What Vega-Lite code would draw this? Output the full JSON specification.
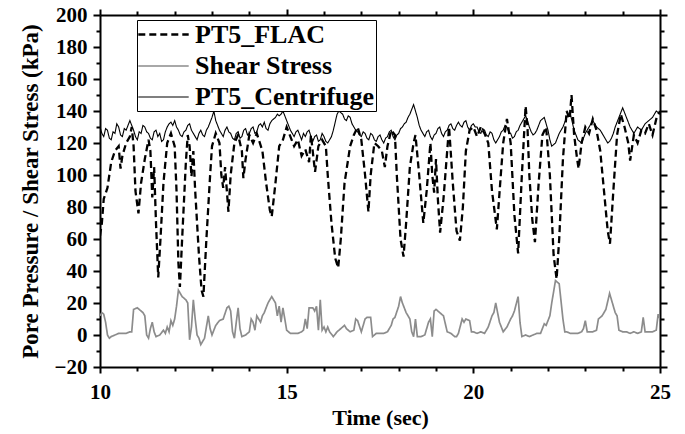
{
  "$schema": "https://vega.github.io/schema/vega-lite/v6.json",
  "autosize": {"type": "none"},
  "width": 560,
  "height": 352,
  "padding": {"left": 100, "top": 15, "right": 25, "bottom": 67},
  "background": "white",
  "datasets": {
    "flac": [
      {"t":10.0,"v":62},{"t":10.05,"v":70},{"t":10.1,"v":85},{"t":10.2,"v":92},{"t":10.3,"v":108},{"t":10.4,"v":115},{"t":10.5,"v":118},{"t":10.55,"v":104},{"t":10.6,"v":112},{"t":10.7,"v":120},{"t":10.8,"v":124},{"t":10.85,"v":130},{"t":10.9,"v":118},{"t":10.95,"v":90},{"t":11.03,"v":76},{"t":11.1,"v":95},{"t":11.2,"v":110},{"t":11.3,"v":122},{"t":11.35,"v":115},{"t":11.4,"v":86},{"t":11.45,"v":105},{"t":11.5,"v":70},{"t":11.56,"v":36},{"t":11.62,"v":60},{"t":11.7,"v":95},{"t":11.8,"v":120},{"t":11.9,"v":126},{"t":12.0,"v":118},{"t":12.05,"v":90},{"t":12.1,"v":45},{"t":12.14,"v":30},{"t":12.2,"v":60},{"t":12.3,"v":108},{"t":12.35,"v":125},{"t":12.4,"v":118},{"t":12.45,"v":99},{"t":12.5,"v":115},{"t":12.55,"v":90},{"t":12.65,"v":50},{"t":12.72,"v":28},{"t":12.77,"v":24},{"t":12.85,"v":60},{"t":12.95,"v":100},{"t":13.0,"v":118},{"t":13.1,"v":126},{"t":13.2,"v":120},{"t":13.25,"v":100},{"t":13.3,"v":92},{"t":13.35,"v":105},{"t":13.44,"v":77},{"t":13.5,"v":100},{"t":13.6,"v":120},{"t":13.7,"v":125},{"t":13.8,"v":115},{"t":13.84,"v":98},{"t":13.9,"v":110},{"t":14.0,"v":125},{"t":14.1,"v":120},{"t":14.2,"v":126},{"t":14.35,"v":115},{"t":14.45,"v":95},{"t":14.55,"v":78},{"t":14.6,"v":74},{"t":14.7,"v":95},{"t":14.8,"v":118},{"t":14.9,"v":122},{"t":15.0,"v":130},{"t":15.1,"v":124},{"t":15.2,"v":118},{"t":15.3,"v":122},{"t":15.4,"v":112},{"t":15.5,"v":116},{"t":15.6,"v":108},{"t":15.65,"v":125},{"t":15.76,"v":102},{"t":15.85,"v":118},{"t":15.95,"v":122},{"t":16.05,"v":118},{"t":16.1,"v":100},{"t":16.2,"v":70},{"t":16.3,"v":48},{"t":16.38,"v":42},{"t":16.45,"v":60},{"t":16.55,"v":95},{"t":16.7,"v":118},{"t":16.8,"v":125},{"t":16.9,"v":130},{"t":17.0,"v":122},{"t":17.1,"v":100},{"t":17.19,"v":77},{"t":17.25,"v":100},{"t":17.35,"v":120},{"t":17.45,"v":118},{"t":17.55,"v":115},{"t":17.63,"v":105},{"t":17.7,"v":118},{"t":17.8,"v":128},{"t":17.9,"v":125},{"t":17.95,"v":100},{"t":18.05,"v":60},{"t":18.13,"v":49},{"t":18.2,"v":70},{"t":18.3,"v":105},{"t":18.4,"v":120},{"t":18.45,"v":125},{"t":18.55,"v":100},{"t":18.66,"v":70},{"t":18.75,"v":90},{"t":18.85,"v":120},{"t":18.9,"v":100},{"t":18.95,"v":89},{"t":19.0,"v":110},{"t":19.05,"v":85},{"t":19.11,"v":64},{"t":19.2,"v":85},{"t":19.3,"v":115},{"t":19.35,"v":130},{"t":19.45,"v":95},{"t":19.55,"v":65},{"t":19.64,"v":59},{"t":19.72,"v":80},{"t":19.8,"v":115},{"t":19.9,"v":128},{"t":20.0,"v":130},{"t":20.1,"v":124},{"t":20.2,"v":130},{"t":20.3,"v":126},{"t":20.4,"v":120},{"t":20.5,"v":90},{"t":20.63,"v":66},{"t":20.72,"v":95},{"t":20.8,"v":120},{"t":20.9,"v":135},{"t":21.0,"v":120},{"t":21.1,"v":75},{"t":21.2,"v":51},{"t":21.3,"v":100},{"t":21.4,"v":143},{"t":21.45,"v":130},{"t":21.5,"v":100},{"t":21.58,"v":72},{"t":21.65,"v":58},{"t":21.75,"v":95},{"t":21.85,"v":125},{"t":21.95,"v":130},{"t":22.05,"v":100},{"t":22.15,"v":50},{"t":22.23,"v":35},{"t":22.3,"v":60},{"t":22.4,"v":110},{"t":22.5,"v":140},{"t":22.58,"v":135},{"t":22.63,"v":150},{"t":22.7,"v":125},{"t":22.78,"v":110},{"t":22.82,"v":104},{"t":22.9,"v":120},{"t":23.0,"v":130},{"t":23.1,"v":126},{"t":23.2,"v":135},{"t":23.3,"v":128},{"t":23.4,"v":115},{"t":23.5,"v":90},{"t":23.6,"v":65},{"t":23.66,"v":57},{"t":23.75,"v":90},{"t":23.85,"v":125},{"t":23.95,"v":138},{"t":24.05,"v":130},{"t":24.15,"v":120},{"t":24.2,"v":109},{"t":24.3,"v":125},{"t":24.4,"v":120},{"t":24.5,"v":128},{"t":24.6,"v":126},{"t":24.7,"v":132},{"t":24.8,"v":125},{"t":24.9,"v":135},{"t":25.0,"v":140}
    ],
    "shear": [
      {"t":10.0,"v":12},{"t":10.05,"v":14},{"t":10.1,"v":13},{"t":10.15,"v":8},{"t":10.2,"v":0},{"t":10.25,"v":-2},{"t":10.3,"v":-1},{"t":10.4,"v":0},{"t":10.5,"v":1},{"t":10.6,"v":1},{"t":10.7,"v":1},{"t":10.8,"v":2},{"t":10.85,"v":2},{"t":10.9,"v":16},{"t":11.0,"v":17},{"t":11.1,"v":15},{"t":11.15,"v":14},{"t":11.2,"v":12},{"t":11.25,"v":0},{"t":11.3,"v":-2},{"t":11.35,"v":4},{"t":11.4,"v":8},{"t":11.45,"v":2},{"t":11.5,"v":-1},{"t":11.6,"v":0},{"t":11.7,"v":3},{"t":11.75,"v":1},{"t":11.8,"v":5},{"t":11.85,"v":2},{"t":11.9,"v":9},{"t":11.95,"v":6},{"t":12.0,"v":10},{"t":12.05,"v":18},{"t":12.1,"v":28},{"t":12.15,"v":26},{"t":12.2,"v":24},{"t":12.3,"v":22},{"t":12.35,"v":20},{"t":12.4,"v":-3},{"t":12.45,"v":5},{"t":12.5,"v":22},{"t":12.55,"v":10},{"t":12.6,"v":0},{"t":12.65,"v":-2},{"t":12.7,"v":-6},{"t":12.75,"v":-4},{"t":12.8,"v":-2},{"t":12.85,"v":5},{"t":12.9,"v":12},{"t":12.95,"v":4},{"t":13.0,"v":0},{"t":13.1,"v":6},{"t":13.2,"v":9},{"t":13.3,"v":10},{"t":13.4,"v":17},{"t":13.45,"v":18},{"t":13.5,"v":15},{"t":13.55,"v":2},{"t":13.6,"v":-2},{"t":13.65,"v":8},{"t":13.7,"v":17},{"t":13.75,"v":4},{"t":13.8,"v":-1},{"t":13.9,"v":0},{"t":14.0,"v":2},{"t":14.05,"v":10},{"t":14.1,"v":8},{"t":14.15,"v":3},{"t":14.2,"v":12},{"t":14.3,"v":8},{"t":14.35,"v":12},{"t":14.4,"v":14},{"t":14.5,"v":20},{"t":14.6,"v":24},{"t":14.7,"v":20},{"t":14.75,"v":12},{"t":14.8,"v":18},{"t":14.85,"v":8},{"t":14.9,"v":17},{"t":14.95,"v":10},{"t":15.0,"v":3},{"t":15.1,"v":1},{"t":15.2,"v":1},{"t":15.3,"v":1},{"t":15.4,"v":2},{"t":15.45,"v":3},{"t":15.5,"v":10},{"t":15.55,"v":4},{"t":15.6,"v":17},{"t":15.7,"v":17},{"t":15.75,"v":15},{"t":15.8,"v":18},{"t":15.85,"v":3},{"t":15.9,"v":22},{"t":15.95,"v":3},{"t":16.0,"v":5},{"t":16.05,"v":2},{"t":16.1,"v":5},{"t":16.15,"v":2},{"t":16.25,"v":-1},{"t":16.35,"v":2},{"t":16.5,"v":5},{"t":16.55,"v":6},{"t":16.6,"v":4},{"t":16.7,"v":2},{"t":16.8,"v":3},{"t":16.85,"v":10},{"t":16.9,"v":9},{"t":17.0,"v":2},{"t":17.1,"v":10},{"t":17.15,"v":11},{"t":17.25,"v":11},{"t":17.3,"v":-1},{"t":17.4,"v":1},{"t":17.5,"v":1},{"t":17.6,"v":1},{"t":17.7,"v":2},{"t":17.8,"v":6},{"t":17.85,"v":10},{"t":17.9,"v":11},{"t":18.0,"v":18},{"t":18.05,"v":24},{"t":18.1,"v":20},{"t":18.2,"v":14},{"t":18.3,"v":10},{"t":18.35,"v":2},{"t":18.4,"v":-1},{"t":18.45,"v":10},{"t":18.5,"v":-1},{"t":18.6,"v":-1},{"t":18.7,"v":0},{"t":18.8,"v":8},{"t":18.85,"v":10},{"t":18.9,"v":-1},{"t":18.95,"v":15},{"t":19.0,"v":16},{"t":19.1,"v":14},{"t":19.2,"v":12},{"t":19.3,"v":2},{"t":19.4,"v":1},{"t":19.5,"v":-1},{"t":19.55,"v":-1},{"t":19.6,"v":1},{"t":19.7,"v":10},{"t":19.75,"v":8},{"t":19.8,"v":10},{"t":19.9,"v":9},{"t":19.95,"v":2},{"t":20.0,"v":2},{"t":20.1,"v":1},{"t":20.2,"v":2},{"t":20.3,"v":1},{"t":20.4,"v":5},{"t":20.5,"v":12},{"t":20.55,"v":14},{"t":20.6,"v":20},{"t":20.65,"v":14},{"t":20.7,"v":8},{"t":20.8,"v":2},{"t":20.9,"v":5},{"t":21.0,"v":10},{"t":21.05,"v":12},{"t":21.1,"v":15},{"t":21.2,"v":24},{"t":21.25,"v":8},{"t":21.3,"v":-1},{"t":21.4,"v":0},{"t":21.5,"v":-1},{"t":21.6,"v":0},{"t":21.7,"v":1},{"t":21.8,"v":1},{"t":21.85,"v":4},{"t":21.9,"v":7},{"t":21.95,"v":6},{"t":22.05,"v":12},{"t":22.1,"v":20},{"t":22.2,"v":34},{"t":22.3,"v":32},{"t":22.4,"v":10},{"t":22.45,"v":2},{"t":22.5,"v":2},{"t":22.6,"v":1},{"t":22.8,"v":1},{"t":22.9,"v":2},{"t":22.95,"v":4},{"t":23.0,"v":9},{"t":23.05,"v":2},{"t":23.2,"v":2},{"t":23.3,"v":3},{"t":23.35,"v":10},{"t":23.45,"v":12},{"t":23.55,"v":16},{"t":23.65,"v":26},{"t":23.75,"v":18},{"t":23.8,"v":14},{"t":23.85,"v":12},{"t":23.9,"v":3},{"t":24.0,"v":2},{"t":24.1,"v":2},{"t":24.2,"v":1},{"t":24.3,"v":2},{"t":24.4,"v":1},{"t":24.5,"v":2},{"t":24.55,"v":11},{"t":24.6,"v":2},{"t":24.7,"v":2},{"t":24.8,"v":2},{"t":24.9,"v":3},{"t":24.95,"v":13},{"t":25.0,"v":10}
    ],
    "centrifuge": [
      {"t":10.0,"v":130},{"t":10.05,"v":126},{"t":10.1,"v":124},{"t":10.15,"v":129},{"t":10.2,"v":128},{"t":10.25,"v":123},{"t":10.3,"v":122},{"t":10.35,"v":127},{"t":10.4,"v":126},{"t":10.45,"v":132},{"t":10.5,"v":130},{"t":10.55,"v":125},{"t":10.6,"v":124},{"t":10.65,"v":129},{"t":10.7,"v":128},{"t":10.75,"v":131},{"t":10.8,"v":134},{"t":10.85,"v":131},{"t":10.9,"v":128},{"t":10.95,"v":124},{"t":11.0,"v":122},{"t":11.05,"v":127},{"t":11.1,"v":126},{"t":11.15,"v":131},{"t":11.2,"v":130},{"t":11.25,"v":127},{"t":11.3,"v":126},{"t":11.35,"v":123},{"t":11.4,"v":122},{"t":11.45,"v":127},{"t":11.5,"v":128},{"t":11.55,"v":124},{"t":11.6,"v":126},{"t":11.65,"v":121},{"t":11.7,"v":122},{"t":11.75,"v":127},{"t":11.8,"v":130},{"t":11.85,"v":132},{"t":11.9,"v":133},{"t":11.95,"v":131},{"t":12.0,"v":134},{"t":12.05,"v":130},{"t":12.1,"v":128},{"t":12.15,"v":125},{"t":12.2,"v":124},{"t":12.25,"v":127},{"t":12.3,"v":128},{"t":12.35,"v":131},{"t":12.4,"v":132},{"t":12.45,"v":128},{"t":12.5,"v":126},{"t":12.55,"v":124},{"t":12.6,"v":122},{"t":12.65,"v":126},{"t":12.7,"v":128},{"t":12.75,"v":125},{"t":12.8,"v":124},{"t":12.85,"v":128},{"t":12.9,"v":130},{"t":12.95,"v":133},{"t":13.0,"v":136},{"t":13.05,"v":140},{"t":13.1,"v":134},{"t":13.15,"v":131},{"t":13.2,"v":128},{"t":13.25,"v":126},{"t":13.3,"v":124},{"t":13.35,"v":128},{"t":13.4,"v":130},{"t":13.45,"v":127},{"t":13.5,"v":126},{"t":13.55,"v":123},{"t":13.6,"v":122},{"t":13.65,"v":126},{"t":13.7,"v":127},{"t":13.75,"v":123},{"t":13.8,"v":124},{"t":13.85,"v":128},{"t":13.9,"v":129},{"t":13.95,"v":125},{"t":14.0,"v":126},{"t":14.05,"v":129},{"t":14.1,"v":130},{"t":14.15,"v":126},{"t":14.2,"v":127},{"t":14.25,"v":131},{"t":14.3,"v":132},{"t":14.35,"v":130},{"t":14.4,"v":133},{"t":14.45,"v":129},{"t":14.5,"v":128},{"t":14.55,"v":132},{"t":14.6,"v":134},{"t":14.65,"v":135},{"t":14.7,"v":136},{"t":14.75,"v":138},{"t":14.8,"v":137},{"t":14.85,"v":138},{"t":14.9,"v":140},{"t":14.95,"v":137},{"t":15.0,"v":134},{"t":15.05,"v":131},{"t":15.1,"v":128},{"t":15.15,"v":126},{"t":15.2,"v":124},{"t":15.25,"v":127},{"t":15.3,"v":128},{"t":15.35,"v":125},{"t":15.4,"v":122},{"t":15.45,"v":126},{"t":15.5,"v":124},{"t":15.55,"v":127},{"t":15.6,"v":128},{"t":15.65,"v":124},{"t":15.7,"v":121},{"t":15.75,"v":124},{"t":15.8,"v":125},{"t":15.85,"v":121},{"t":15.9,"v":122},{"t":15.95,"v":126},{"t":16.0,"v":124},{"t":16.05,"v":121},{"t":16.1,"v":120},{"t":16.15,"v":122},{"t":16.2,"v":124},{"t":16.25,"v":128},{"t":16.3,"v":133},{"t":16.35,"v":138},{"t":16.4,"v":140},{"t":16.45,"v":139},{"t":16.5,"v":138},{"t":16.55,"v":135},{"t":16.6,"v":134},{"t":16.65,"v":137},{"t":16.7,"v":136},{"t":16.75,"v":132},{"t":16.8,"v":130},{"t":16.85,"v":128},{"t":16.9,"v":127},{"t":16.95,"v":125},{"t":17.0,"v":124},{"t":17.05,"v":127},{"t":17.1,"v":126},{"t":17.15,"v":123},{"t":17.2,"v":122},{"t":17.25,"v":126},{"t":17.3,"v":125},{"t":17.35,"v":122},{"t":17.4,"v":121},{"t":17.45,"v":124},{"t":17.5,"v":125},{"t":17.55,"v":122},{"t":17.6,"v":120},{"t":17.65,"v":123},{"t":17.7,"v":124},{"t":17.75,"v":127},{"t":17.8,"v":128},{"t":17.85,"v":124},{"t":17.9,"v":122},{"t":17.95,"v":125},{"t":18.0,"v":126},{"t":18.05,"v":129},{"t":18.1,"v":130},{"t":18.15,"v":132},{"t":18.2,"v":133},{"t":18.25,"v":136},{"t":18.3,"v":138},{"t":18.35,"v":141},{"t":18.4,"v":144},{"t":18.45,"v":140},{"t":18.5,"v":136},{"t":18.55,"v":131},{"t":18.6,"v":128},{"t":18.65,"v":126},{"t":18.7,"v":124},{"t":18.75,"v":127},{"t":18.8,"v":128},{"t":18.85,"v":124},{"t":18.9,"v":122},{"t":18.95,"v":125},{"t":19.0,"v":126},{"t":19.05,"v":129},{"t":19.1,"v":130},{"t":19.15,"v":126},{"t":19.2,"v":124},{"t":19.25,"v":127},{"t":19.3,"v":128},{"t":19.35,"v":131},{"t":19.4,"v":132},{"t":19.45,"v":129},{"t":19.5,"v":128},{"t":19.55,"v":131},{"t":19.6,"v":133},{"t":19.65,"v":131},{"t":19.7,"v":130},{"t":19.75,"v":133},{"t":19.8,"v":134},{"t":19.85,"v":130},{"t":19.9,"v":128},{"t":19.95,"v":131},{"t":20.0,"v":132},{"t":20.05,"v":130},{"t":20.1,"v":130},{"t":20.15,"v":127},{"t":20.2,"v":126},{"t":20.25,"v":129},{"t":20.3,"v":128},{"t":20.35,"v":125},{"t":20.4,"v":124},{"t":20.45,"v":127},{"t":20.5,"v":126},{"t":20.55,"v":122},{"t":20.6,"v":120},{"t":20.65,"v":122},{"t":20.7,"v":124},{"t":20.75,"v":127},{"t":20.8,"v":128},{"t":20.85,"v":131},{"t":20.9,"v":130},{"t":20.95,"v":127},{"t":21.0,"v":126},{"t":21.05,"v":123},{"t":21.1,"v":124},{"t":21.15,"v":127},{"t":21.2,"v":128},{"t":21.25,"v":131},{"t":21.3,"v":133},{"t":21.35,"v":135},{"t":21.4,"v":137},{"t":21.45,"v":134},{"t":21.5,"v":130},{"t":21.55,"v":127},{"t":21.6,"v":125},{"t":21.65,"v":126},{"t":21.7,"v":128},{"t":21.75,"v":131},{"t":21.8,"v":134},{"t":21.85,"v":135},{"t":21.9,"v":136},{"t":21.95,"v":132},{"t":22.0,"v":128},{"t":22.05,"v":122},{"t":22.1,"v":118},{"t":22.15,"v":119},{"t":22.2,"v":120},{"t":22.25,"v":123},{"t":22.3,"v":126},{"t":22.35,"v":128},{"t":22.4,"v":130},{"t":22.45,"v":133},{"t":22.5,"v":136},{"t":22.55,"v":137},{"t":22.6,"v":138},{"t":22.65,"v":133},{"t":22.7,"v":128},{"t":22.75,"v":125},{"t":22.8,"v":122},{"t":22.85,"v":121},{"t":22.9,"v":120},{"t":22.95,"v":123},{"t":23.0,"v":126},{"t":23.05,"v":128},{"t":23.1,"v":130},{"t":23.15,"v":132},{"t":23.2,"v":134},{"t":23.25,"v":132},{"t":23.3,"v":130},{"t":23.35,"v":129},{"t":23.4,"v":128},{"t":23.45,"v":126},{"t":23.5,"v":124},{"t":23.55,"v":122},{"t":23.6,"v":120},{"t":23.65,"v":121},{"t":23.7,"v":123},{"t":23.75,"v":126},{"t":23.8,"v":130},{"t":23.85,"v":133},{"t":23.9,"v":136},{"t":23.95,"v":139},{"t":24.0,"v":142},{"t":24.05,"v":139},{"t":24.1,"v":136},{"t":24.15,"v":133},{"t":24.2,"v":130},{"t":24.25,"v":128},{"t":24.3,"v":126},{"t":24.35,"v":128},{"t":24.4,"v":130},{"t":24.45,"v":129},{"t":24.5,"v":128},{"t":24.55,"v":130},{"t":24.6,"v":132},{"t":24.65,"v":133},{"t":24.7,"v":134},{"t":24.75,"v":135},{"t":24.8,"v":136},{"t":24.85,"v":138},{"t":24.9,"v":140},{"t":24.95,"v":139},{"t":25.0,"v":138}
    ],
    "dummy": [{"t":10,"v":0}]
  },
  "resolve": {"axis": {"x": "independent", "y": "independent"}},
  "layer": [
    {
      "data": {"name": "flac"},
      "mark": {"type": "line", "clip": true},
      "encoding": {
        "x": {"field": "t", "type": "quantitative", "scale": {"domain": [10, 25], "nice": false, "zero": false},
              "axis": {"orient": "bottom", "values": [10, 15, 20, 25], "tickSize": 6, "labelPadding": 8, "labelFlush": false, "labelOverlap": false, "format": "d",
                       "labelFont": "Liberation Serif", "labelFontWeight": "bold", "labelFontSize": 21, "labelColor": "#000000",
                       "title": "Time (sec)", "titlePadding": 5, "titleFont": "Liberation Serif", "titleFontWeight": "bold", "titleFontSize": 22, "titleColor": "#000000"}},
        "y": {"field": "v", "type": "quantitative", "scale": {"domain": [-20, 200], "nice": false, "zero": false},
              "axis": {"orient": "left", "values": [-20, 0, 20, 40, 60, 80, 100, 120, 140, 160, 180, 200], "tickSize": 7, "labelPadding": 6, "labelFlush": false, "labelOverlap": false, "format": "d",
                       "labelFont": "Liberation Serif", "labelFontWeight": "bold", "labelFontSize": 21, "labelColor": "#000000",
                       "title": "Pore Pressure / Shear Stress (kPa)", "titlePadding": 12, "titleFont": "Liberation Serif", "titleFontWeight": "bold", "titleFontSize": 23, "titleColor": "#000000"}},
        "color": {"datum": "PT5_FLAC", "type": "nominal", "scale": {"domain": ["PT5_FLAC", "Shear Stress", "PT5_Centrifuge"], "range": ["#000000", "#8c8c8c", "#000000"]}},
        "strokeDash": {"datum": "PT5_FLAC", "type": "nominal", "scale": {"domain": ["PT5_FLAC", "Shear Stress", "PT5_Centrifuge"], "range": [[7, 4], [1, 0], [1, 0]]}},
        "strokeWidth": {"datum": "PT5_FLAC", "type": "nominal", "scale": {"domain": ["PT5_FLAC", "Shear Stress", "PT5_Centrifuge"], "range": [2.3, 1.1, 1.7]}}
      }
    },
    {
      "data": {"name": "shear"},
      "mark": {"type": "line", "clip": true},
      "encoding": {
        "x": {"field": "t", "type": "quantitative", "axis": null},
        "y": {"field": "v", "type": "quantitative", "axis": null},
        "color": {"datum": "Shear Stress", "type": "nominal"},
        "strokeDash": {"datum": "Shear Stress", "type": "nominal"},
        "strokeWidth": {"datum": "Shear Stress", "type": "nominal"}
      }
    },
    {
      "data": {"name": "centrifuge"},
      "mark": {"type": "line", "clip": true},
      "encoding": {
        "x": {"field": "t", "type": "quantitative", "axis": null},
        "y": {"field": "v", "type": "quantitative", "axis": null},
        "color": {"datum": "PT5_Centrifuge", "type": "nominal"},
        "strokeDash": {"datum": "PT5_Centrifuge", "type": "nominal"},
        "strokeWidth": {"datum": "PT5_Centrifuge", "type": "nominal"}
      }
    },
    {
      "data": {"name": "dummy"},
      "mark": {"type": "point", "opacity": 0},
      "encoding": {
        "x": {"field": "t", "type": "quantitative",
              "axis": {"orient": "bottom", "values": [11, 12, 13, 14, 16, 17, 18, 19, 21, 22, 23, 24], "tickSize": 4, "labels": false, "domain": false, "title": null}},
        "y": {"field": "v", "type": "quantitative",
              "axis": {"orient": "left", "values": [-10, 10, 30, 50, 70, 90, 110, 130, 150, 170, 190], "tickSize": 4, "labels": false, "domain": false, "title": null}}
      }
    },
    {
      "data": {"name": "dummy"},
      "mark": {"type": "point", "opacity": 0},
      "encoding": {
        "x": {"field": "t", "type": "quantitative",
              "axis": {"orient": "top", "values": [10, 15, 20, 25], "tickSize": 6, "labels": false, "title": null}},
        "y": {"field": "v", "type": "quantitative",
              "axis": {"orient": "right", "values": [-20, 0, 20, 40, 60, 80, 100, 120, 140, 160, 180, 200], "tickSize": 7, "labels": false, "title": null}}
      }
    },
    {
      "data": {"name": "dummy"},
      "mark": {"type": "point", "opacity": 0},
      "encoding": {
        "x": {"field": "t", "type": "quantitative",
              "axis": {"orient": "top", "values": [11, 12, 13, 14, 16, 17, 18, 19, 21, 22, 23, 24], "tickSize": 4, "labels": false, "domain": false, "title": null}},
        "y": {"field": "v", "type": "quantitative",
              "axis": {"orient": "right", "values": [-10, 10, 30, 50, 70, 90, 110, 130, 150, 170, 190], "tickSize": 4, "labels": false, "domain": false, "title": null}}
      }
    }
  ],
  "config": {
    "view": {"stroke": null},
    "axis": {
      "grid": false,
      "domainColor": "#000000", "domainWidth": 2,
      "tickColor": "#000000", "tickWidth": 2,
      "labelFont": "Liberation Serif", "labelFontWeight": "bold", "labelFontSize": 21, "labelColor": "#000000",
      "titleFont": "Liberation Serif", "titleFontWeight": "bold", "titleFontSize": 22, "titleColor": "#000000"
    },
    "legend": {
      "orient": "none", "legendX": 37, "legendY": 5,
      "title": null,
      "strokeColor": "#000000", "fillColor": "#ffffff", "padding": 1,
      "symbolType": "M-2.1,0L2.1,0", "symbolSize": 576, "symbolOffset": 12,
      "labelOffset": 18, "rowPadding": 5, "labelLimit": 400,
      "labelFont": "Liberation Serif", "labelFontWeight": "bold", "labelFontSize": 26, "labelColor": "#000000"
    }
  }
}
